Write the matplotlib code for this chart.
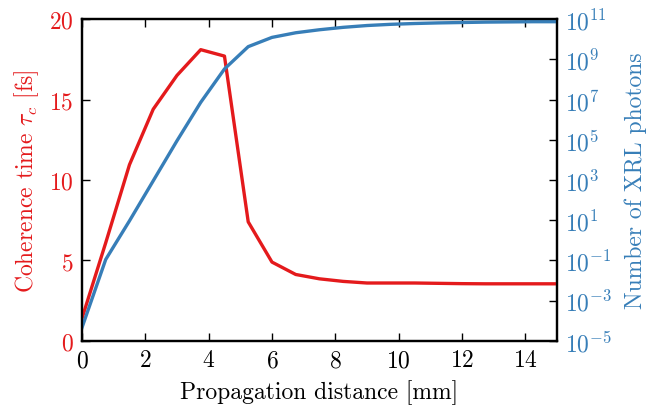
import matplotlib
matplotlib.use('Agg')
import matplotlib.pyplot as plt
from matplotlib.ticker import NullLocator, FixedLocator
import numpy as np

plt.rcParams.update({
    'font.family': 'serif',
    'font.serif': ['cmr10'],
    'mathtext.fontset': 'cm',
    'axes.formatter.use_mathtext': True,
    'font.size': 17,
    'axes.unicode_minus': True,
})

red = '#e41a1c'
blue = '#377eb8'

distance = [0, 0.75, 1.5, 2.25, 3.0, 3.75, 4.5, 5.25, 6.0, 6.75, 7.5, 8.25, 9.0,
            9.75, 10.5, 11.25, 12.0, 12.75, 13.5, 14.25, 15.0]
coherence = [1.4, 6.1, 10.95, 14.4, 16.5, 18.1, 17.7, 7.4, 4.9, 4.13, 3.86, 3.7, 3.6,
             3.6, 3.6, 3.58, 3.56, 3.55, 3.55, 3.55, 3.55]
log_photons = [-4.34, -0.95, 0.97, 2.96, 4.95, 6.86, 8.52, 9.63, 10.09, 10.32, 10.47,
               10.59, 10.68, 10.74, 10.78, 10.81, 10.83, 10.85, 10.86, 10.87, 10.87]
photons = [10 ** v for v in log_photons]

fig = plt.figure(figsize=(6.48, 4.10), dpi=100)
ax = fig.add_axes([0.1265, 0.166, 0.733, 0.785])
ax2 = ax.twinx()

ax.plot(distance, coherence, color=red, lw=2.4, zorder=3)
ax2.plot(distance, photons, color=blue, lw=2.4)

ax.set_xlim(0, 15)
ax.set_ylim(0, 20)
ax2.set_yscale('log')
ax2.set_ylim(1e-5, 1e11)
ax2.yaxis.set_major_locator(FixedLocator([10.0 ** k for k in range(-5, 12, 2)]))
ax2.yaxis.set_minor_locator(NullLocator())

ax.set_xticks([0, 2, 4, 6, 8, 10, 12, 14])
ax.set_yticks([0, 5, 10, 15, 20])

ax.tick_params(axis='both', direction='in', length=6, width=1, top=True, right=False)
ax.tick_params(axis='y', labelcolor=red, pad=6)
ax.tick_params(axis='x', pad=6)
ax2.tick_params(axis='y', direction='in', length=6, width=1, labelcolor=blue, pad=6)

for sp in ax.spines.values():
    sp.set_linewidth(1.6)
for sp in ax2.spines.values():
    sp.set_linewidth(1.6)

ax.set_xlabel('Propagation distance [mm]', labelpad=6)
ax.set_ylabel(r'Coherence time $\tau_c$ [fs]', color=red, labelpad=6)
ax2.set_ylabel('Number of XRL photons', color=blue, labelpad=9)

fig.savefig('out.png', dpi=100)
